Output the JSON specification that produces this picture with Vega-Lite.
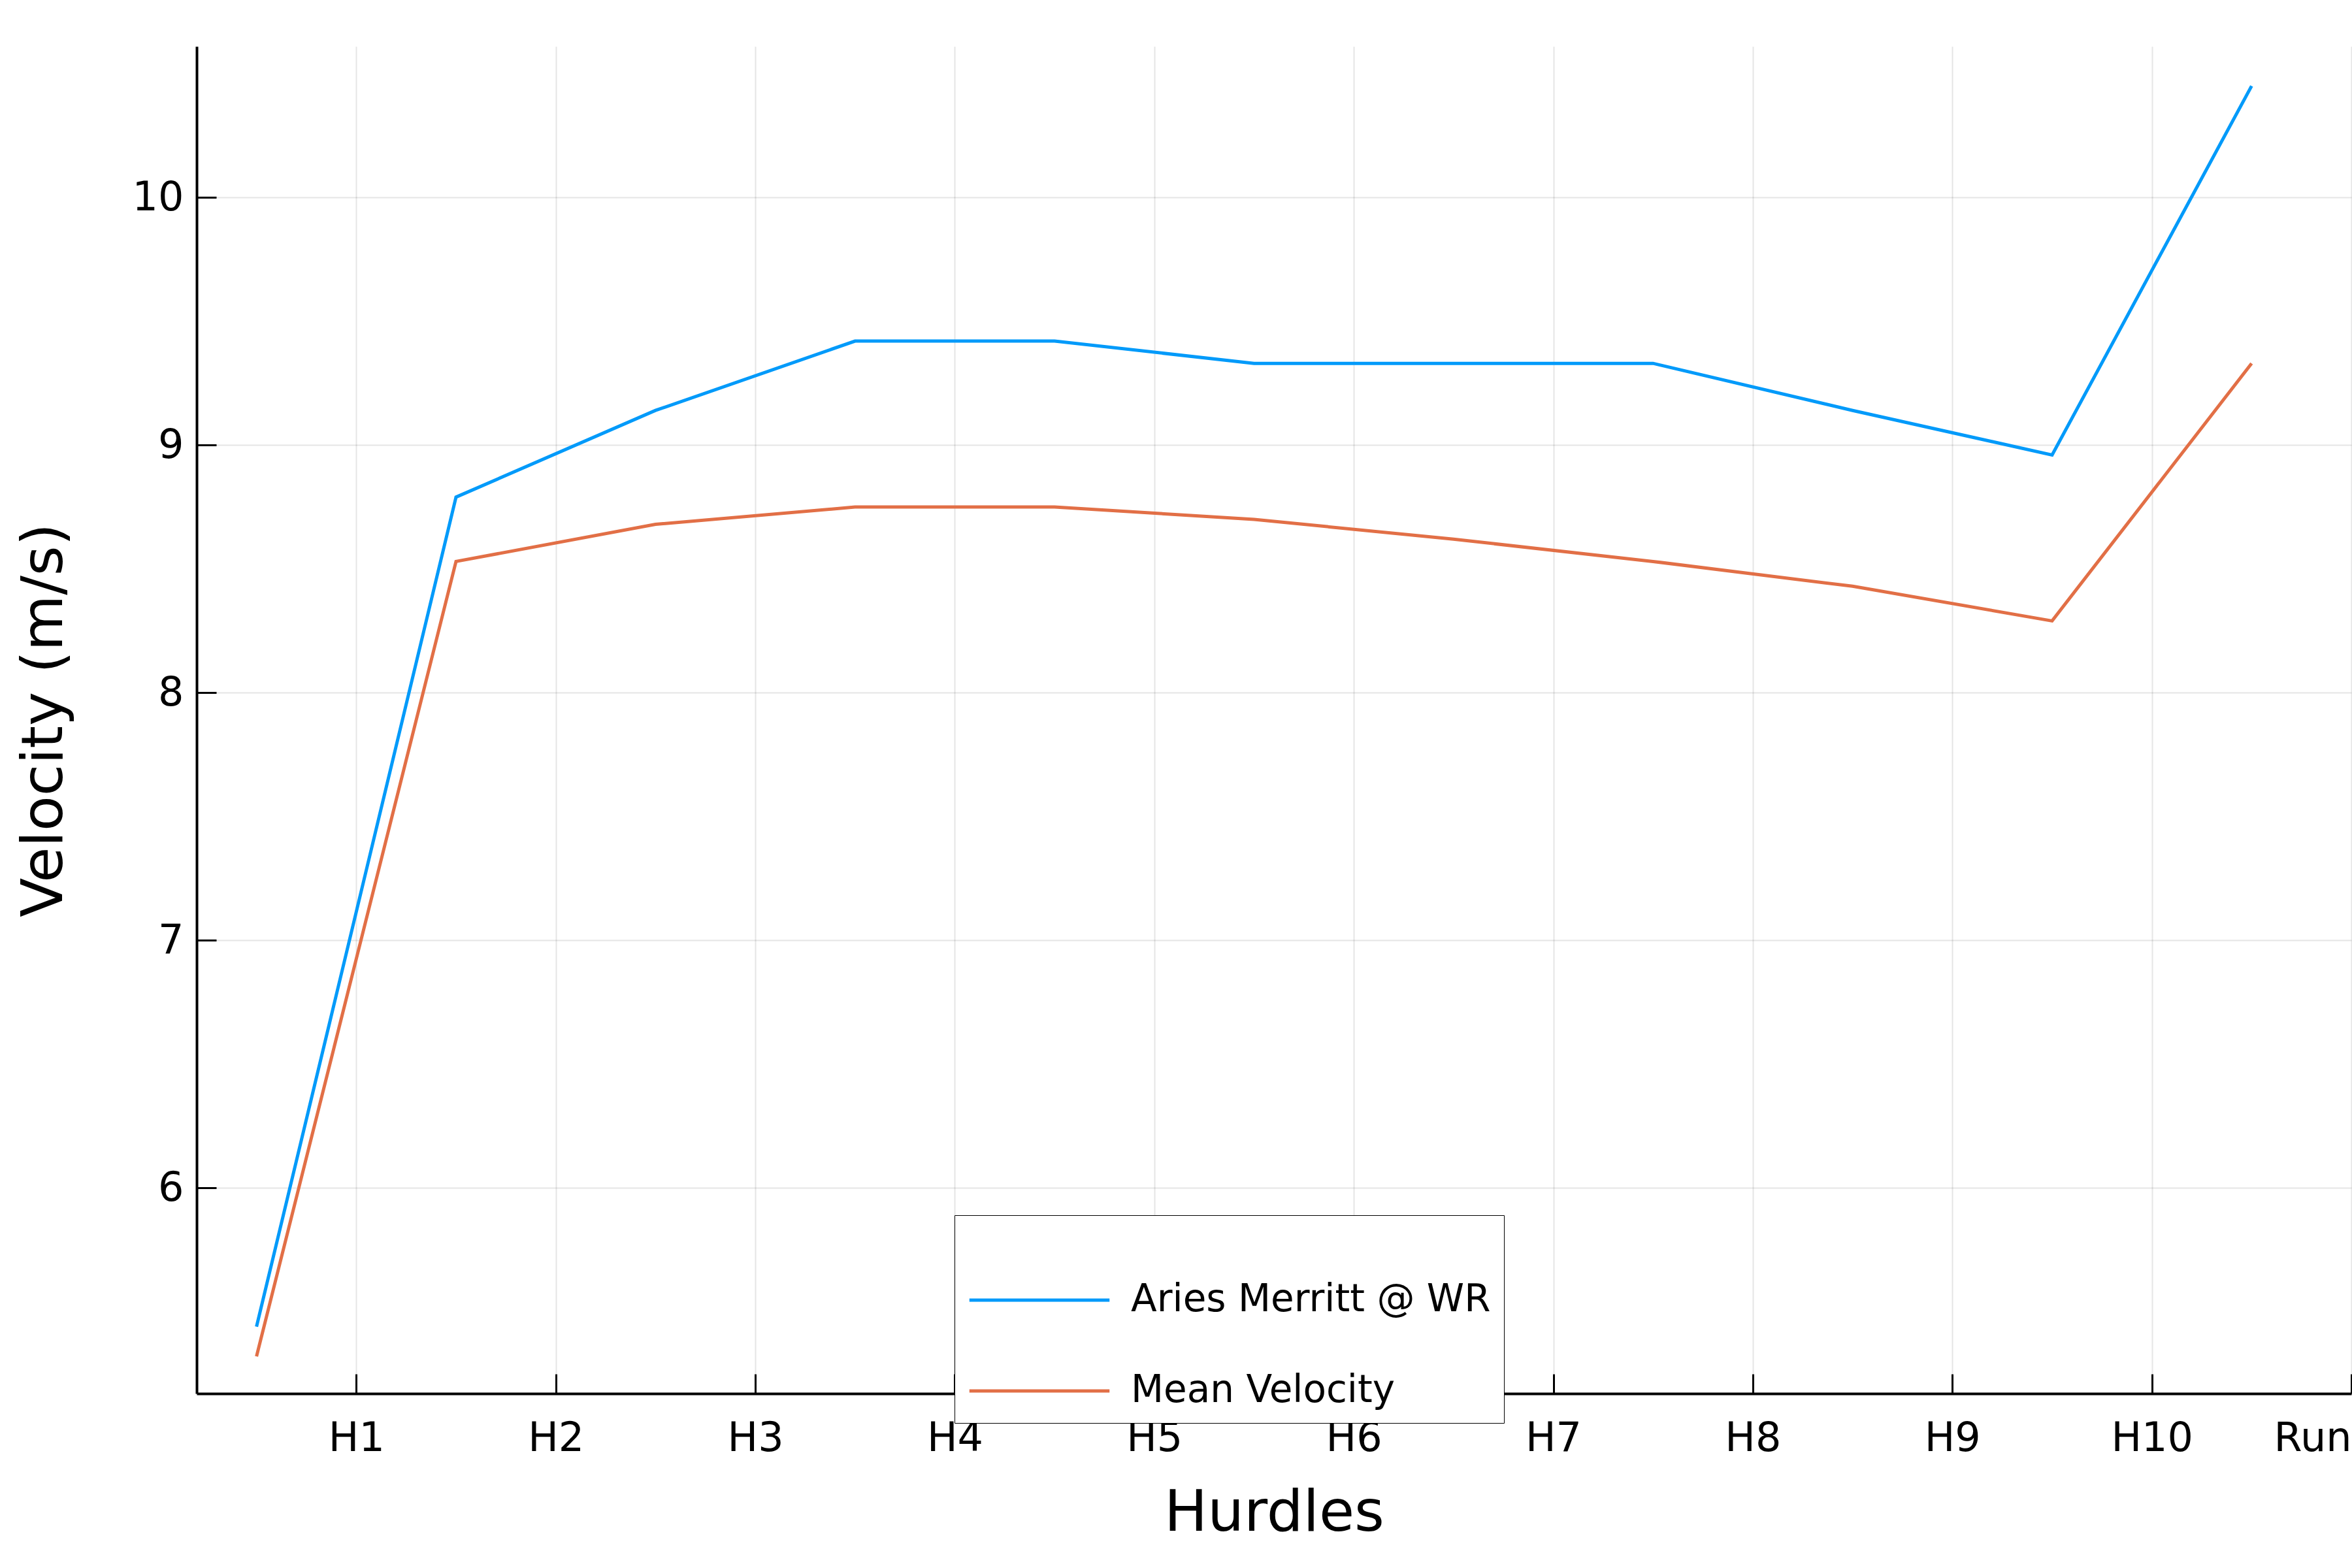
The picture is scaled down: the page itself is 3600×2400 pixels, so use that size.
{
  "$schema": "https://vega.github.io/schema/vega-lite/v6.json",
  "width": 3298,
  "height": 2062,
  "autosize": {"type": "none"},
  "padding": {"left": 301, "top": 71, "right": 1, "bottom": 267},
  "background": "white",
  "config": {
    "view": {"stroke": null},
    "font": "DejaVu Sans",
    "axis": {"gridColor": "#000000", "gridOpacity": 0.1, "gridWidth": 2, "domainColor": "black", "domainWidth": 4, "tickColor": "black", "tickWidth": 3, "labelFontSize": 62, "titleFontSize": 88, "labelColor": "black", "titleColor": "black", "titleFontWeight": "normal"}
  },
  "data": {
    "values": [
      {"x": 0.5, "v": 5.44, "s": "Aries Merritt @ WR"},
      {"x": 1.5, "v": 8.79, "s": "Aries Merritt @ WR"},
      {"x": 2.5, "v": 9.14, "s": "Aries Merritt @ WR"},
      {"x": 3.5, "v": 9.42, "s": "Aries Merritt @ WR"},
      {"x": 4.5, "v": 9.42, "s": "Aries Merritt @ WR"},
      {"x": 5.5, "v": 9.33, "s": "Aries Merritt @ WR"},
      {"x": 6.5, "v": 9.33, "s": "Aries Merritt @ WR"},
      {"x": 7.5, "v": 9.33, "s": "Aries Merritt @ WR"},
      {"x": 8.5, "v": 9.14, "s": "Aries Merritt @ WR"},
      {"x": 9.5, "v": 8.96, "s": "Aries Merritt @ WR"},
      {"x": 10.5, "v": 10.45, "s": "Aries Merritt @ WR"},
      {"x": 0.5, "v": 5.32, "s": "Mean Velocity"},
      {"x": 1.5, "v": 8.53, "s": "Mean Velocity"},
      {"x": 2.5, "v": 8.68, "s": "Mean Velocity"},
      {"x": 3.5, "v": 8.75, "s": "Mean Velocity"},
      {"x": 4.5, "v": 8.75, "s": "Mean Velocity"},
      {"x": 5.5, "v": 8.70, "s": "Mean Velocity"},
      {"x": 6.5, "v": 8.62, "s": "Mean Velocity"},
      {"x": 7.5, "v": 8.53, "s": "Mean Velocity"},
      {"x": 8.5, "v": 8.43, "s": "Mean Velocity"},
      {"x": 9.5, "v": 8.29, "s": "Mean Velocity"},
      {"x": 10.5, "v": 9.33, "s": "Mean Velocity"}
    ]
  },
  "mark": {"type": "line", "strokeWidth": 5},
  "encoding": {
    "x": {
      "field": "x", "type": "quantitative",
      "scale": {"domain": [0.2, 11], "nice": false, "zero": false},
      "axis": {"values": [1,2,3,4,5,6,7,8,9,10,11], "labelExpr": "datum.value == 11 ? 'Run' : 'H' + datum.value", "title": "Hurdles", "tickSize": -30, "labelPadding": 68, "titlePadding": 40}
    },
    "y": {
      "field": "v", "type": "quantitative",
      "scale": {"domain": [5.17, 10.61], "nice": false, "zero": false},
      "axis": {"values": [6,7,8,9,10], "title": "Velocity (m/s)", "tickSize": -30, "labelPadding": 50, "titlePadding": 90}
    },
    "color": {
      "field": "s", "type": "nominal",
      "scale": {"domain": ["Aries Merritt @ WR", "Mean Velocity"], "range": ["#009AFA", "#E26F46"]},
      "legend": {"title": null, "orient": "none", "legendX": 1160, "legendY": 1789, "direction": "vertical", "labelFontSize": 58, "labelColor": "black", "labelLimit": 0, "symbolType": "stroke", "symbolSize": 46000, "symbolStrokeWidth": 5, "strokeColor": "black", "padding": 20, "rowPadding": -150, "labelOffset": 30, "fillColor": "white"}
    }
  }
}
